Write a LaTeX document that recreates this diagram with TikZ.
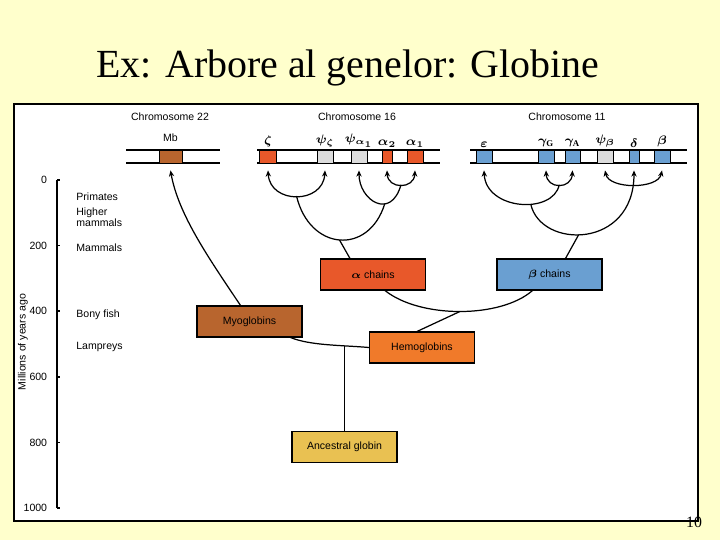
\documentclass[tikz,border=0pt]{standalone}
\usepackage{amsmath}
\usepackage{fontspec}
\setmainfont{Liberation Serif}
\setsansfont{Liberation Sans}
\usepackage{tikz}
\usetikzlibrary{arrows.meta}
\usetikzlibrary{calc}
\usetikzlibrary{positioning}

\definecolor{slidebg}{HTML}{FFFFCC}
\definecolor{alphared}{HTML}{E8582A}
\definecolor{hemoorange}{HTML}{F07A2A}
\definecolor{myobrown}{HTML}{B8652E}
\definecolor{betablue}{HTML}{6A9FD1}
\definecolor{ancgold}{HTML}{E9C152}
\definecolor{pseudogrey}{HTML}{DCDCDC}

\begin{document}
\begin{tikzpicture}[
		x=0.02cm, y=-0.02cm, % one unit = one pixel of the slide, y going down
		>={Stealth[length=3.5pt,width=3pt]}, line width=0.6pt,
		every node/.style={font=\sffamily\fontsize{6}{7}\selectfont},
		gene/.style={draw,line width=0.5pt,minimum height=0.26cm,inner sep=0pt}, % box on a chromosome
		agene/.style={gene,fill=alphared},
		bgene/.style={gene,fill=betablue},
		pgene/.style={gene,fill=pseudogrey}, % pseudogene
		mgene/.style={gene,fill=myobrown},
		genelab/.style={above=1pt,inner sep=0pt,font=\fontsize{7}{8}\selectfont},
		family/.style={draw,line width=0.6pt,minimum width=2.1cm,minimum height=0.62cm,inner sep=2pt},
		chrom/.style={line width=0.9pt},
		branch/.style={line width=0.7pt},
	]
	% --- slide and frame
	\fill[slidebg] (0,0) rectangle (720,540);
	\useasboundingbox (0,0) rectangle (720,540);
	\draw[fill=white,line width=0.6pt] (14,104) rectangle (698,521);
	\node[font=\rmfamily\fontsize{22.7}{26}\selectfont,anchor=base] (title) at (348,78) {Ex: Arbore al genelor: Globine};
	\node[font=\rmfamily\fontsize{9}{10}\selectfont] (pg) at (694,522) {10};

	% --- chromosomes
	\node (c22) at (170,117) {Chromosome 22};
	\node (c16) at (357,117) {Chromosome 16};
	\node (c11) at (567,117) {Chromosome 11};
	\foreach \a/\b in {126/220, 257/440, 470/687}
		\draw[chrom] (\a,150) -- (\b,150) (\a,163) -- (\b,163);

	\node[mgene,minimum width=0.46cm] (gmb) at (170.5,156.5) {};
	\node[above=1pt] at (gmb.north) {Mb};
	\foreach \n/\x/\w/\s/\t in {
			gz/268/.34/agene/\zeta,
			gpz/325/.32/pgene/\psi_\zeta,
			gpa/359/.32/pgene/\psi_{\alpha_1},
			ga2/387/.20/agene/\alpha_2,
			ga1/415/.32/agene/\alpha_1,
			ge/484/.32/bgene/\varepsilon,
			ggg/546/.32/bgene/\gamma_{\mathrm{G}},
			gga/572.5/.30/bgene/\gamma_{\mathrm{A}},
			gpb/605/.32/pgene/\psi_\beta,
			gd/634/.20/bgene/\delta,
			gb/662/.32/bgene/\beta}{
			\node[\s,minimum width=\w cm] (\n) at (\x,156.5) {};
			\node[genelab] at (\n.north) {$\boldsymbol{\t}$};
		}
	% arrow ends just under the genes
	\foreach \n in {gmb,gz,gpz,gpa,ga2,ga1,ge,ggg,gga,gpb,gd,gb}
		\path (\n.south) ++(0,7) coordinate (t\n);

	% --- time axis
	\draw[line width=0.9pt] (57,180) coordinate (ax0) -- (57,508) coordinate (ax1);
	\foreach \v in {0,200,...,1000}{
			\draw[line width=0.9pt] (57,{180+0.328*\v}) -- ++(3,0);
			\node[left=2pt] at (57,{180+0.328*\v}) {\v};
		}
	\node[rotate=90] (axt) at (23,342) {Millions of years ago};
	\node[anchor=west] at (70,197) {Primates};
	\node[anchor=west,align=left,font=\sffamily\fontsize{6}{6.3}\selectfont] at (70,217.5) {Higher\\mammals};
	\node[anchor=west] at (70,248) {Mammals};
	\node[anchor=west] at (70,315) {Bony fish};
	\node[anchor=west] at (70,347) {Lampreys};

	% --- gene families
	\node[family,fill=alphared] (achain) at (373,274.5) {$\boldsymbol{\alpha}$ chains};
	\node[family,fill=betablue] (bchain) at (549.5,274.5) {$\boldsymbol{\beta}$ chains};
	\node[family,fill=myobrown] (myo) at (249.5,321.5) {Myoglobins};
	\node[family,fill=hemoorange] (hemo) at (422,347.5) {Hemoglobins};
	\node[family,fill=ancgold] (anc) at (344.5,447) {Ancestral globin};

	% --- alpha cluster (chromosome 16)
	\draw[<->,branch] (tgz) .. controls +(2,34) and +(-2,34) .. (tgpz) coordinate[pos=0.5] (jz);
	\draw[<->,branch] (tga2) .. controls +(1,19) and +(-1,19) .. (tga1) coordinate[pos=0.5] (jaa);
	\draw[->,branch] (jaa) .. controls +(-10,36) and +(0,30) .. (tgpa) coordinate[pos=0.35] (jpa);
	\draw[branch] (jz) .. controls +(13,55) and +(-16,52) .. (jpa) coordinate[pos=0.5] (ja);
	\draw[branch] ($(achain.north)+(-23,0)$) -- (ja);

	% --- beta cluster (chromosome 11)
	\draw[<->,branch] (tggg) .. controls +(1,19) and +(-1,19) .. (tgga) coordinate[pos=0.5] (jgg);
	\draw[->,branch] (jgg) .. controls +(-6,30) and +(2,40) .. (tge) coordinate[pos=0.4] (je);
	\draw[<->,branch] (tgpb) .. controls +(4,19) and +(-4,19) .. (tgb);
	\draw[->,branch] (je) .. controls +(10,45) and +(0,79) .. (tgd) coordinate[pos=0.45] (jb);
	\draw[branch] ($(bchain.north)+(16,0)$) -- (jb);

	% --- older splits
	\draw[branch] ($(achain.south)+(12,0)$) .. controls +(35,28) and +(-32,28) .. ($(bchain.south)+(-17,0)$) coordinate[pos=0.5] (jab);
	\draw[branch] ($(hemo.north)+(-5,0)$) -- (jab);
	\draw[branch] ($(myo.south east)+(-12,0)$) .. controls +(20,8) and +(-30,-2.5) .. (hemo.west) coordinate[pos=0.72] (jmh);
	\draw[branch] (anc.north) -- (anc.north |- jmh);
	\draw[->,branch] ($(myo.north)+(-9,0)$) .. controls +(-30,-45) and +(8,45) .. (tgmb);
\end{tikzpicture}
\end{document}
